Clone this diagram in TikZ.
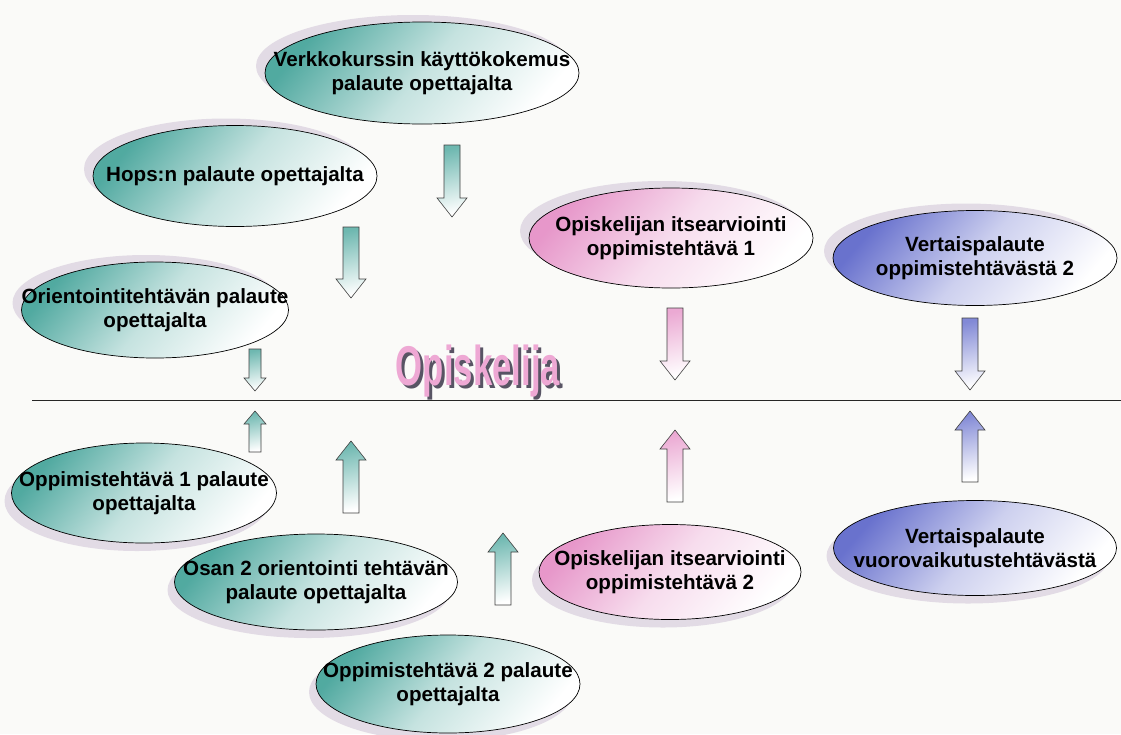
\documentclass[tikz,border=0pt]{standalone}
\usepackage{fontspec}
\setmainfont{Liberation Sans}
\usetikzlibrary{shapes.geometric,shadows}

\definecolor{tealc}{RGB}{62,160,150}
\definecolor{pinkc}{RGB}{228,140,196}
\definecolor{bluec}{RGB}{88,98,200}
\definecolor{shadowc}{RGB}{226,219,229}
\definecolor{titlec}{RGB}{238,168,212}
\definecolor{titleshadow}{RGB}{88,84,100}
\definecolor{paper}{RGB}{250,250,248}

\tikzset{
  bubble/.style={ellipse,draw=black,line width=0.7pt,inner sep=0pt,
    top color=#1!90,bottom color=white,middle color=#1!30!white,shading angle=50},
  upshadow/.style={drop shadow={shadow xshift=-9pt,shadow yshift=7pt,fill=shadowc,opacity=1}},
  downshadow/.style={drop shadow={shadow xshift=-7pt,shadow yshift=-8pt,fill=shadowc,opacity=1}},
  txt/.style={align=center,inner sep=0pt,font=\bfseries\fontsize{20.6}{24}\selectfont},
  blockarrow/.style={draw=black!75,line width=0.6pt,top color=#1!75,bottom color=white,shading angle=12}
}

\begin{document}
\begin{tikzpicture}[x=1pt,y=-1pt]
\useasboundingbox (0,0) rectangle (1121,734);
\fill[paper] (0,0) rectangle (1121,734);

% feedback bubbles above the line
\node[bubble=tealc,upshadow,minimum width=314,minimum height=102] (verkko) at (422,73) {};
\node[bubble=tealc,upshadow,minimum width=284,minimum height=101] (hops) at (235,176) {};
\node[bubble=tealc,upshadow,minimum width=267,minimum height=96] (orient) at (155,310) {};
\node[bubble=pinkc,upshadow,minimum width=284,minimum height=100] (itse1) at (671,238) {};
\node[bubble=bluec,upshadow,minimum width=284,minimum height=95] (vertais2) at (975,258) {};

% feedback bubbles below the line
\node[bubble=tealc,downshadow,minimum width=265,minimum height=100] (opp1) at (144,493) {};
\node[bubble=tealc,downshadow,minimum width=283,minimum height=96] (osan2) at (316,582) {};
\node[bubble=tealc,downshadow,minimum width=264,minimum height=98] (opp2) at (448,684) {};
\node[bubble=pinkc,downshadow,minimum width=262,minimum height=95] (itse2) at (670,572) {};
\node[bubble=bluec,downshadow,minimum width=283,minimum height=95] (vuoro) at (975,548) {};

\node[txt] (verkko-t) at (verkko) {Verkkokurssin käyttökokemus\\palaute opettajalta};
\node[txt] (hops-t) at (hops) {Hops:n palaute opettajalta};
\node[txt] (orient-t) at (orient) {Orientointitehtävän palaute\\opettajalta};
\node[txt] (itse1-t) at (itse1) {Opiskelijan itsearviointi\\oppimistehtävä 1};
\node[txt] (vertais2-t) at (vertais2) {Vertaispalaute\\oppimistehtävästä 2};
\node[txt] (opp1-t) at (opp1) {Oppimistehtävä 1 palaute\\opettajalta};
\node[txt] (osan2-t) at (osan2) {Osan 2 orientointi tehtävän\\palaute opettajalta};
\node[txt] (opp2-t) at (opp2) {Oppimistehtävä 2 palaute\\opettajalta};
\node[txt] (itse2-t) at (itse2) {Opiskelijan itsearviointi\\oppimistehtävä 2};
\node[txt] (vuoro-t) at (vuoro) {Vertaispalaute\\vuorovaikutustehtävästä};

% the line and the student
\coordinate (viiva-a) at (32,400);
\coordinate (viiva-b) at (1121,400);
\draw[line width=0.9pt,black!85] (viiva-a) -- (viiva-b);
\node[anchor=base,text=titleshadow,inner sep=0pt,font=\bfseries\fontsize{56}{60}\selectfont]
  (otsikko-s) at (481,388) {\scalebox{0.62}[1]{Opiskelija}};
\node[anchor=base,text=titlec,inner sep=0pt,font=\bfseries\fontsize{56}{60}\selectfont]
  (otsikko) at (478,385) {\scalebox{0.62}[1]{Opiskelija}};

% block arrows: x / tail / tip / head base / shaft half / head half / colour
\foreach \x/\a/\b/\hb/\s/\h/\c in {452/145/217/198/8/15/tealc, 351/227/298/279/8/15/tealc,
    255/349/391/378/6/11/tealc, 675/308/380/361/8/15/pinkc, 970/318/390/371/8/15/bluec,
    255/452/411/424/6/11/tealc, 351/513/441/460/8/15/tealc, 503/605/533/552/8/15/tealc,
    675/502/430/449/8/15/pinkc, 970/482/411/430/8/15/bluec}
  \draw[blockarrow=\c] (\x-\s,\a) -- (\x+\s,\a) -- (\x+\s,\hb) -- (\x+\h,\hb) -- (\x,\b)
    -- (\x-\h,\hb) -- (\x-\s,\hb) -- cycle;
\end{tikzpicture}
\end{document}
